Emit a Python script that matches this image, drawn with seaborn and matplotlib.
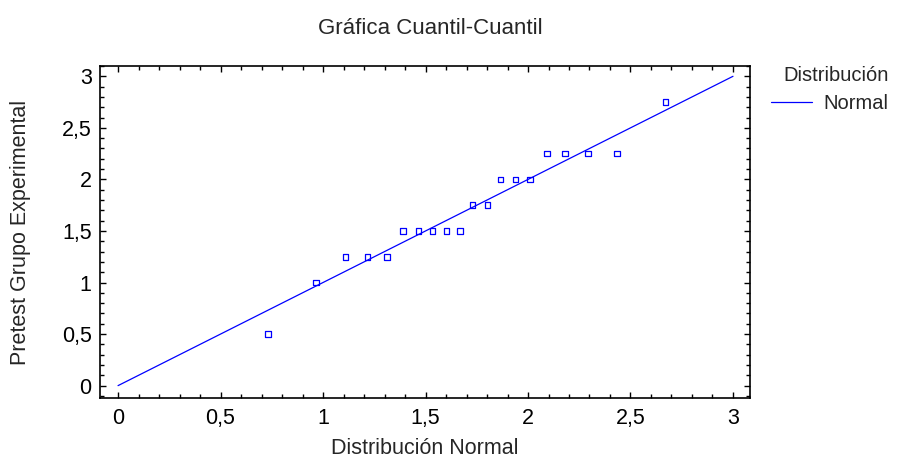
import matplotlib
matplotlib.use("Agg")
import matplotlib.pyplot as plt
import seaborn as sns
import pandas as pd
from matplotlib.ticker import MultipleLocator, FuncFormatter

# cuantiles teoricos (normal) y valores observados
teoricos = [0.732, 0.967, 1.109, 1.216, 1.313, 1.391, 1.465, 1.535, 1.603, 1.667,
            1.730, 1.802, 1.866, 1.940, 2.010, 2.093, 2.181, 2.294, 2.434, 2.671]
observados = [0.5, 1.0, 1.25, 1.25, 1.25, 1.5, 1.5, 1.5, 1.5, 1.5,
              1.75, 1.75, 2.0, 2.0, 2.0, 2.25, 2.25, 2.25, 2.25, 2.75]
# recta de referencia
recta_x = [0, 3]
recta_y = [0, 3]

sns.set_style("ticks")
plt.rcParams['font.family'] = ['Liberation Sans', 'DejaVu Sans']

df = pd.DataFrame({"teorico": teoricos, "observado": observados})
linea = pd.DataFrame({"x": recta_x, "y": recta_y, "dist": ["Normal", "Normal"]})

fig = plt.figure(figsize=(9.08, 4.59), dpi=100)
ax = fig.add_axes([100/908, 1 - 398/459, 650/908, 332/459])

sns.lineplot(data=linea, x="x", y="y", hue="dist", palette=["#0000ff"],
             linewidth=0.9, ax=ax)
sns.scatterplot(data=df, x="teorico", y="observado", marker="s", s=16,
                facecolor="none", edgecolor="#0000ff", linewidth=0.9,
                legend=False, ax=ax)

ax.set_xlim(-0.088, 3.083)
ax.set_ylim(-0.12, 3.1)
ax.xaxis.set_major_locator(MultipleLocator(0.5))
ax.xaxis.set_minor_locator(MultipleLocator(0.1))
ax.yaxis.set_major_locator(MultipleLocator(0.5))
ax.yaxis.set_minor_locator(MultipleLocator(0.1))
coma = FuncFormatter(lambda v, p: f"{v:g}".replace(".", ","))
ax.xaxis.set_major_formatter(coma)
ax.yaxis.set_major_formatter(coma)
ax.tick_params(which="both", direction="in", top=True, right=True,
               labelsize=15.5, width=1, color="black", labelcolor="black")
ax.tick_params(which="major", length=4.5)
ax.tick_params(which="minor", length=3)
ax.tick_params(axis="x", which="major", pad=7)
ax.tick_params(axis="y", which="major", pad=6)
for s in ax.spines.values():
    s.set_visible(True)
    s.set_linewidth(1.2)
    s.set_color("black")

ax.set_xlabel("Distribución Normal", fontsize=15.5, labelpad=7)
ax.set_ylabel("Pretest Grupo Experimental", fontsize=15.5, labelpad=22)
fig.text(430/908, 1 - 28/459, "Gráfica Cuantil-Cuantil", ha="center", va="center",
         fontsize=16)

leg = ax.legend(title="Distribución", loc="upper right", bbox_to_anchor=(1.226, 1.025),
                frameon=False, fontsize=14.5, title_fontsize=14.5, handlelength=2.0,
                handletextpad=0.6, borderaxespad=0, labelspacing=0.45)
leg._legend_box.align = "right"

fig.savefig("out.png", dpi=100)
